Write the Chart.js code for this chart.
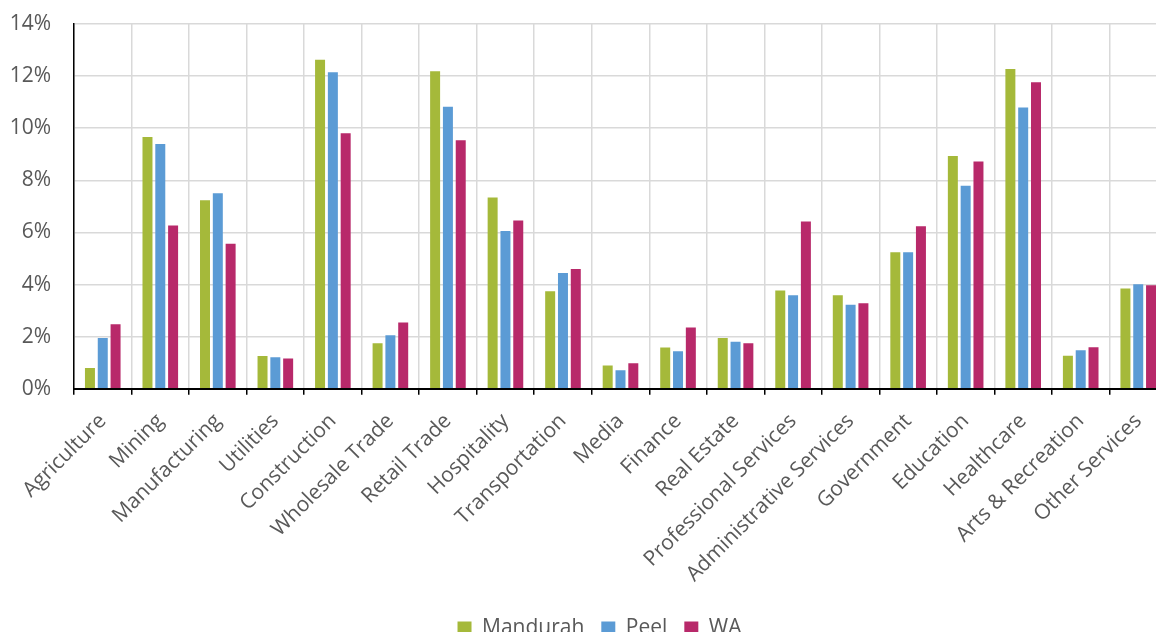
<!DOCTYPE html>
<html>
<head>
<meta charset="utf-8">
<script src="https://cdn.jsdelivr.net/npm/chart.js"></script>
<style>
  html, body { margin: 0; padding: 0; background: #fff; overflow: hidden; }
  #wrap { width: 1200px; height: 649px; }
</style>
</head>
<body>
<div id="wrap"><canvas id="industryChart" width="1200" height="649"></canvas></div>
<script>
const industries = [
  "Agriculture", "Mining", "Manufacturing", "Utilities", "Construction",
  "Wholesale Trade", "Retail Trade", "Hospitality", "Transportation", "Media",
  "Finance", "Real Estate", "Professional Services", "Administrative Services",
  "Government", "Education", "Healthcare", "Arts & Recreation", "Other Services"
];

// share of employment by industry, in percent
const mandurah = [0.80, 9.66, 7.24, 1.26, 12.63, 1.75, 12.19, 7.34, 3.74, 0.89,
  1.58, 1.95, 3.77, 3.59, 5.24, 8.93, 12.27, 1.27, 3.85];
const peel = [1.95, 9.39, 7.50, 1.21, 12.15, 2.05, 10.82, 6.06, 4.44, 0.71,
  1.44, 1.80, 3.59, 3.22, 5.24, 7.79, 10.80, 1.48, 4.01];
const wa = [2.48, 6.27, 5.57, 1.16, 9.81, 2.54, 9.54, 6.46, 4.60, 0.98,
  2.35, 1.75, 6.42, 3.28, 6.24, 8.72, 11.76, 1.59, 3.97];

const yTicks = [0, 2, 4, 6, 8, 10, 12, 14];

const textGrey = "#595959";
const fontFamily = "'Open Sans', 'Noto Sans', sans-serif";

// nudge the legend a little to the right of the canvas centre
const legendShift = {
  id: "legendShift",
  afterLayout(chart) {
    chart.legend.left += 11;
    chart.legend.right += 11;
  },
};

const ctx = document.getElementById("industryChart").getContext("2d");

const industryChart = new Chart(ctx, {
  type: "bar",
  data: {
    labels: industries,
    datasets: [
      { label: "Mandurah", data: mandurah, backgroundColor: "#a5b93a" },
      { label: "Peel", data: peel, backgroundColor: "#5b9bd5" },
      { label: "WA", data: wa, backgroundColor: "#b8296a" },
    ],
  },
  plugins: [legendShift],
  options: {
    responsive: false,
    devicePixelRatio: 1,
    animation: false,
    categoryPercentage: 0.668,
    barPercentage: 0.78,
    layout: {
      padding: { top: 0, right: 33, left: 10, bottom: 0 },
    },
    plugins: {
      tooltip: { enabled: false },
      legend: {
        position: "bottom",
        labels: {
          color: textGrey,
          font: { family: fontFamily, size: 21 },
          boxWidth: 14,
          boxHeight: 14,
          padding: 17,
        },
      },
    },
    scales: {
      x: {
        // rotated labels should not push the plot away from the y axis
        afterFit: (scale) => {
          scale.paddingLeft = 0;
          scale.paddingRight = 0;
        },
        grid: {
          color: "#d9d9d9",
          lineWidth: 1.5,
          tickColor: "#000",
          tickLength: 6,
        },
        border: { color: "#000", width: 2 },
        ticks: {
          color: textGrey,
          font: { family: fontFamily, size: 21 },
          minRotation: 45,
          maxRotation: 45,
          autoSkip: false,
          padding: 14,
        },
      },
      y: {
        min: 0,
        max: 14,
        afterBuildTicks: (axis) => {
          axis.ticks = yTicks.map((v) => ({ value: v }));
        },
        // fixed axis width and top gap, labels sit 23px left of the axis
        afterFit: (scale) => {
          scale.width = 64;
          scale.paddingTop = 24;
        },
        grid: {
          color: "#d9d9d9",
          lineWidth: 1.5,
          drawTicks: false,
        },
        border: { color: "#000", width: 1.5 },
        ticks: {
          color: textGrey,
          font: { family: fontFamily, size: 21 },
          padding: 23,
          callback: (value) => value + "%",
        },
      },
    },
  },
});
</script>
</body>
</html>
